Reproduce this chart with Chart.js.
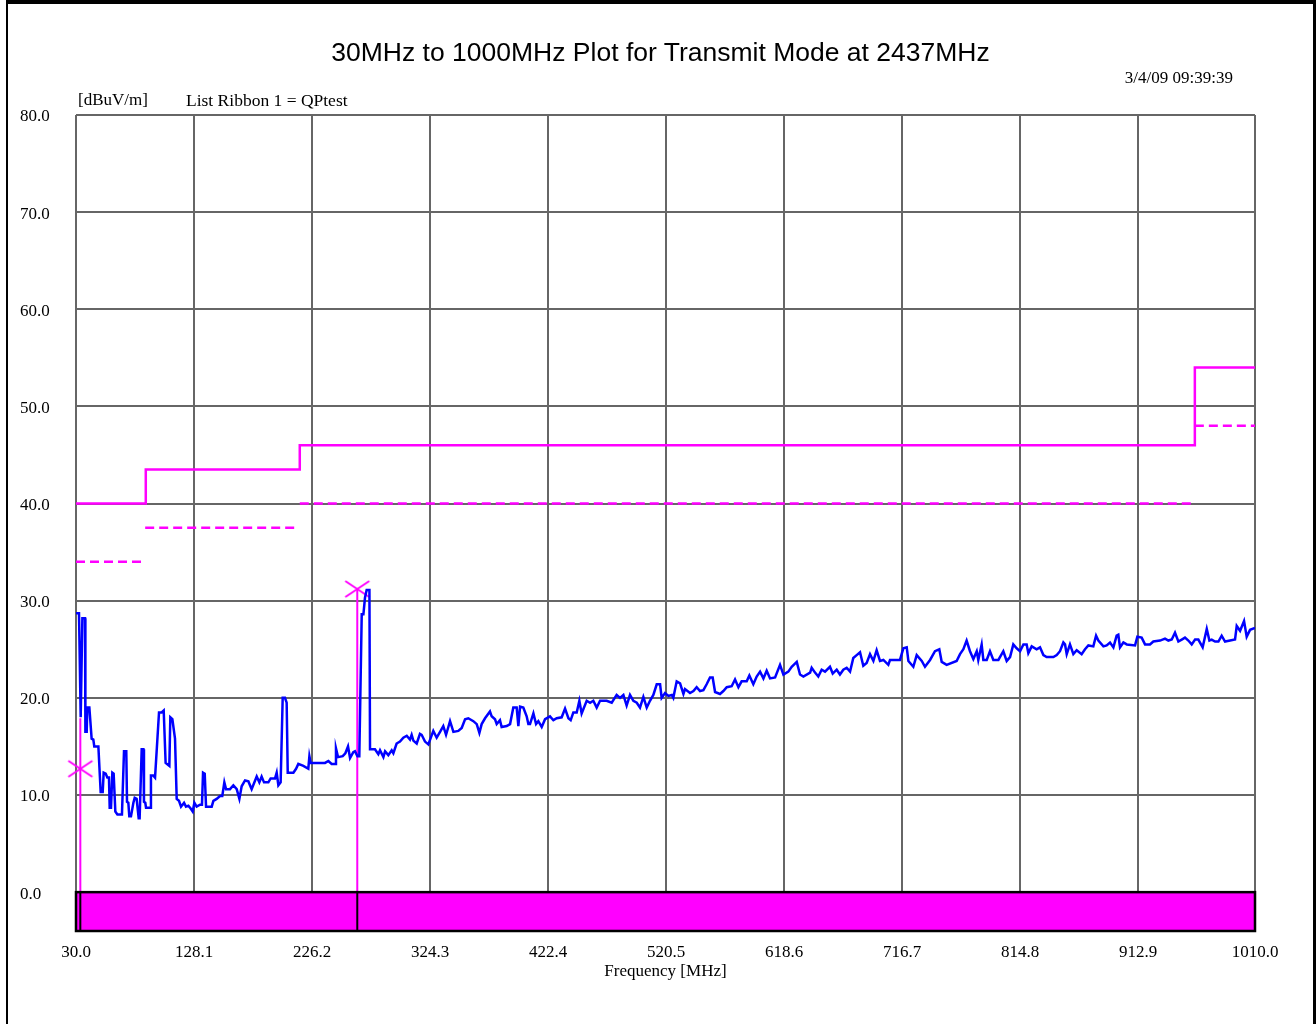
<!DOCTYPE html>
<html>
<head>
<meta charset="utf-8">
<script src="https://cdn.jsdelivr.net/npm/chart.js@4"></script>
<style>
  html, body { margin: 0; padding: 0; background: #fff; }
  body { width: 1316px; height: 1024px; position: relative; overflow: hidden; }
  #frame { position: absolute; left: 6px; top: 0; width: 1305px; height: 1030px;
           border-left: 2px solid #000; border-top: 4px solid #000; border-right: 3px solid #000; }
  #chart { position: absolute; left: 0; top: 0; }
  .txt { position: absolute; white-space: nowrap; color: #000; line-height: 1; }
  #title { left: 0; width: 1321px; top: 37px; text-align: center;
           font: 26.5px "Liberation Sans", Arial, sans-serif; }
  #stamp { right: 83px; top: 68px; font: 17px "Liberation Serif", "Times New Roman", serif; }
  #unit { left: 78px; top: 90px; font: 17px "Liberation Serif", "Times New Roman", serif; }
  #ribbon { left: 186px; top: 90px; font: 17.5px "Liberation Serif", "Times New Roman", serif; }
</style>
</head>
<body>
<div id="frame"></div>
<canvas id="chart" width="1316" height="1024"></canvas>
<div class="txt" id="title">30MHz to 1000MHz Plot for Transmit Mode at 2437MHz</div>
<div class="txt" id="stamp">3/4/09 09:39:39</div>
<div class="txt" id="unit">[dBuV/m]</div>
<div class="txt" id="ribbon">List Ribbon 1 = QPtest</div>
<script>
// axis ticks
const xTicks = [30.0, 128.1, 226.2, 324.3, 422.4, 520.5, 618.6, 716.7, 814.8, 912.9, 1010.0];
const yTicks = [0, 10, 20, 30, 40, 50, 60, 70, 80];

// measured trace (MHz, dBuV/m)
const traceFreq = [
  30.0, 32.5, 33.9, 35.3, 37.5, 37.8, 38.9, 39.4, 41.1, 43.0, 44.4, 45.2, 48.6, 50.5, 52.2, 53.0,
  54.7, 56.0, 57.4, 58.0, 59.1, 60.2, 61.3, 62.7, 64.4, 68.2, 69.9, 71.8, 72.4, 73.5, 74.3, 75.7,
  77.7, 78.8, 80.4, 82.1, 82.9, 84.6, 86.0, 86.5, 87.6, 88.2, 91.8, 92.3, 94.3, 95.7, 99.0, 101.2,
  102.9, 104.5, 107.6, 108.4, 110.1, 112.3, 113.7, 115.6, 117.3, 119.8, 121.4, 123.4, 125.3, 127.0,
  128.4, 130.3, 133.1, 134.7, 135.6, 137.0, 138.1, 142.8, 144.2, 146.9, 149.7, 151.6, 153.3, 154.7,
  158.0, 160.8, 163.6, 165.8, 167.7, 170.5, 173.3, 176.0, 180.2, 182.4, 184.3, 186.3, 189.9, 191.8,
  195.4, 196.8, 198.2, 200.1, 201.8, 203.7, 205.1, 206.0, 210.7, 212.9, 214.8, 219.0, 223.1, 224.0,
  225.1, 237.0, 239.8, 242.5, 245.3, 246.1, 247.8, 251.7, 253.9, 256.1, 257.8, 260.5, 261.9, 263.9,
  265.5, 267.5, 268.9, 270.2, 271.6, 273.9, 274.4, 278.5, 281.3, 282.7, 285.5, 286.9, 289.6, 292.4,
  293.8, 296.5, 299.3, 302.1, 304.9, 307.6, 309.0, 310.4, 313.2, 315.9, 317.3, 320.1, 322.9, 327.0,
  329.8, 332.6, 335.3, 337.6, 339.5, 340.9, 343.7, 347.8, 350.6, 353.4, 356.1, 360.3, 363.1, 365.3,
  367.2, 370.0, 374.1, 375.5, 378.3, 379.7, 382.4, 383.8, 388.0, 390.8, 393.5, 396.3, 397.7, 399.1,
  401.8, 404.6, 406.0, 407.4, 410.2, 412.4, 414.3, 417.1, 419.9, 424.0, 426.8, 429.6, 433.7, 436.5,
  439.3, 441.2, 443.4, 446.2, 448.4, 450.3, 454.5, 457.3, 460.0, 462.8, 465.6, 471.1, 475.3, 479.4,
  482.2, 485.0, 487.7, 490.5, 493.3, 496.1, 498.8, 501.6, 504.4, 507.1, 509.9, 512.7, 515.5, 516.8,
  519.6, 522.4, 525.2, 526.5, 529.3, 532.1, 534.9, 536.2, 540.4, 543.2, 545.9, 548.7, 551.5, 554.2,
  557.0, 559.2, 561.2, 565.3, 568.1, 570.9, 575.0, 577.8, 580.6, 583.3, 587.5, 589.7, 593.0, 595.8,
  598.6, 601.4, 604.1, 606.9, 611.1, 615.2, 618.0, 622.1, 624.9, 629.1, 631.8, 634.6, 640.2, 641.5,
  644.3, 647.0, 649.8, 652.6, 656.7, 659.0, 662.3, 665.0, 667.8, 670.6, 673.4, 676.1, 678.9, 681.7,
  684.4, 687.2, 690.0, 692.8, 695.5, 698.3, 701.1, 705.2, 706.6, 714.9, 717.7, 720.5, 721.9, 726.0,
  728.8, 733.0, 735.7, 739.9, 744.0, 747.6, 749.6, 753.7, 762.0, 764.8, 767.6, 770.3, 773.1, 775.9,
  778.7, 780.0, 782.8, 784.2, 787.0, 789.7, 792.5, 796.7, 800.8, 803.6, 806.4, 809.1, 811.9, 814.7,
  817.5, 820.2, 821.6, 824.4, 828.5, 831.3, 834.1, 836.8, 842.4, 845.2, 847.9, 850.7, 852.1, 853.5,
  856.2, 859.0, 861.8, 865.9, 868.7, 871.5, 875.6, 877.9, 879.8, 884.0, 886.7, 889.5, 892.3, 895.0,
  896.4, 897.8, 900.6, 903.4, 910.3, 912.2, 915.8, 918.6, 922.7, 925.5, 931.1, 935.2, 938.0, 940.8,
  943.5, 946.3, 949.1, 951.8, 954.6, 957.4, 960.2, 962.9, 966.5, 969.9, 972.1, 974.0, 976.8, 979.6,
  982.3, 985.1, 989.3, 993.4, 994.8, 997.6, 1000.9, 1003.1, 1005.9, 1010.0
];
const traceLevel = [
  28.7, 28.7, 18.0, 28.2, 28.2, 16.5, 16.5, 19.0, 19.0, 15.8, 15.7, 15.0, 15.0, 10.3, 10.3, 12.3,
  12.2, 11.8, 11.8, 8.7, 8.7, 12.3, 12.2, 8.3, 8.0, 8.0, 14.5, 14.5, 9.3, 9.2, 7.8, 7.8,
  9.2, 9.7, 9.6, 7.6, 7.6, 14.7, 14.7, 9.3, 9.2, 8.7, 8.7, 12.0, 12.0, 11.8, 18.5, 18.5,
  18.7, 13.3, 13.0, 18.0, 17.8, 15.8, 9.6, 9.4, 8.8, 9.2, 8.8, 8.9, 8.6, 8.3,
  9.2, 8.8, 9.0, 9.0, 12.3, 12.2, 8.8, 8.8, 9.4, 9.6, 9.9, 9.9, 11.3, 10.6,
  10.6, 11.0, 10.6, 9.6, 10.9, 11.5, 11.4, 10.6, 11.9, 11.3, 11.9, 11.3, 11.3, 11.7,
  11.7, 12.3, 11.0, 11.3, 20.0, 20.0, 19.5, 12.3, 12.3, 12.7, 13.2, 13.0, 12.7, 14.0,
  13.3, 13.3, 13.5, 13.2, 13.2, 14.8, 13.9, 14.0, 14.3, 15.0, 13.8, 14.4, 14.5, 14.0,
  14.0, 28.6, 28.6, 30.3, 31.1, 31.1, 14.7, 14.7, 14.2, 14.6, 13.9, 14.5, 14.1, 14.6,
  14.3, 15.3, 15.5, 15.9, 16.1, 15.7, 16.2, 15.6, 15.3, 16.3, 16.2, 15.5, 15.2, 16.6,
  15.9, 16.5, 17.1, 16.2, 17.0, 17.6, 16.5, 16.6, 16.9, 17.8, 17.9, 17.6, 17.3, 16.4,
  17.3, 17.9, 18.6, 18.1, 17.8, 17.3, 17.7, 17.0, 17.1, 17.3, 19.0, 19.0, 17.1, 19.1,
  19.0, 18.1, 17.3, 17.3, 18.4, 17.3, 17.6, 17.0, 17.8, 18.1, 17.7, 17.9, 18.0, 18.9,
  17.9, 17.7, 18.5, 18.5, 19.7, 18.4, 19.7, 19.5, 19.7, 19.0, 19.7, 19.7, 19.5, 20.3,
  20.0, 20.3, 19.2, 20.3, 19.7, 19.5, 19.0, 20.1, 19.0, 19.7, 20.3, 21.4, 21.4, 20.0,
  20.5, 20.2, 20.3, 20.0, 21.7, 21.5, 20.4, 20.9, 20.5, 20.7, 21.1, 20.7, 20.8, 21.4,
  22.1, 22.1, 20.6, 20.4, 20.7, 21.1, 21.2, 21.9, 21.1, 21.7, 21.7, 22.3, 21.4, 22.2,
  22.7, 22.0, 22.8, 22.0, 22.1, 23.4, 22.4, 22.7, 23.2, 23.7, 22.4, 22.2, 22.6, 23.1,
  22.6, 22.2, 22.9, 22.7, 23.2, 22.5, 22.9, 22.4, 22.9, 23.1, 22.7, 24.1, 24.4, 24.7,
  23.3, 23.6, 24.5, 23.8, 24.9, 23.8, 23.9, 23.4, 23.9, 23.9, 25.1, 25.2, 23.8, 23.2,
  24.4, 23.8, 23.2, 23.9, 24.8, 25.0, 23.7, 23.4, 23.8, 24.5, 25.0, 25.9, 24.8, 24.0,
  24.8, 23.9, 25.5, 23.9, 23.9, 24.8, 23.9, 23.9, 24.8, 23.8, 24.2, 25.5, 25.1, 24.8,
  25.5, 25.5, 24.6, 25.3, 25.0, 25.2, 24.4, 24.2, 24.2, 24.4, 24.8, 25.7, 25.5, 24.5,
  25.5, 24.5, 24.9, 24.5, 25.0, 25.4, 25.3, 26.4, 25.9, 25.3, 25.4, 25.7, 25.2, 26.4,
  26.5, 25.2, 25.7, 25.5, 25.4, 26.3, 26.2, 25.5, 25.5, 25.8, 25.9, 26.1, 25.9, 26.0,
  26.7, 25.8, 26.0, 26.2, 25.9, 25.5, 26.0, 26.0, 25.2, 27.1, 25.9, 26.0, 25.8, 25.8,
  26.4, 25.8, 25.9, 26.0, 27.4, 26.9, 27.9, 26.3, 27.0, 27.2
];

// quasi-peak limit (solid) and the lower limit (dashed)
const limitFreq = [30, 88, 88, 216, 216, 960, 960, 1010];
const limitLevel = [40, 40, 43.5, 43.5, 46, 46, 54, 54];
const lowStart = [30, 87.5, 216, 960];
const lowEnd = [85.5, 212, 958, 1010];
const lowLevel = [34, 37.5, 40, 48];

// markers
const markerFreq = [33.6, 263.8];
const markerLevel = [12.7, 31.2];
const markerTop = [17.9, 31.2];

const MAG = '#ff00ff';
const serif = '"Liberation Serif", "Times New Roman", serif';

// wide flat X used for the markers
const xMark = document.createElement('canvas');
xMark.width = 28; xMark.height = 20;
(function () {
  const c = xMark.getContext('2d');
  c.strokeStyle = MAG; c.lineWidth = 2;
  c.beginPath();
  c.moveTo(2, 2); c.lineTo(26, 18);
  c.moveTo(26, 2); c.lineTo(2, 18);
  c.stroke();
})();

const lowData = [];
lowStart.forEach((s, i) => {
  lowData.push({x: s, y: lowLevel[i]}, {x: lowEnd[i], y: lowLevel[i]}, {x: lowEnd[i], y: null});
});

const markerLines = markerFreq.map((f, i) => ({
  data: [{x: f, y: 0}, {x: f, y: markerTop[i]}],
  borderColor: MAG, borderWidth: 2, pointRadius: 0, order: 5
}));

// magenta ribbon under the 0 line
const ribbon = {
  id: 'ribbon',
  afterDatasetsDraw(chart) {
    const {ctx, chartArea, scales} = chart;
    const top = scales.y.getPixelForValue(0);
    const bottom = chartArea.bottom;
    ctx.save();
    ctx.fillStyle = MAG;
    ctx.fillRect(chartArea.left, top, chartArea.right - chartArea.left, bottom - top);
    ctx.strokeStyle = '#000';
    ctx.lineWidth = 2.5;
    ctx.strokeRect(chartArea.left, top, chartArea.right - chartArea.left, bottom - top);
    ctx.lineWidth = 2;
    markerFreq.forEach(f => {
      const x = scales.x.getPixelForValue(f);
      ctx.beginPath();
      ctx.moveTo(x, top);
      ctx.lineTo(x, bottom);
      ctx.stroke();
    });
    ctx.restore();
  }
};

new Chart(document.getElementById('chart'), {
  type: 'line',
  data: {
    datasets: [
      {
        data: traceFreq.map((f, i) => ({x: f, y: traceLevel[i]})),
        borderColor: '#0000ff', borderWidth: 2.5, pointRadius: 0, tension: 0, order: 0
      },
      {
        data: markerFreq.map((f, i) => ({x: f, y: markerLevel[i]})),
        showLine: false, pointStyle: xMark, pointRadius: 12, clip: false, order: 1
      },
      {
        data: limitFreq.map((f, i) => ({x: f, y: limitLevel[i]})),
        borderColor: MAG, borderWidth: 2.5, pointRadius: 0, tension: 0, order: 2
      },
      {
        data: lowData, spanGaps: false,
        borderColor: MAG, borderWidth: 2.5, borderDash: [9, 5], pointRadius: 0, order: 3
      },
      ...markerLines
    ]
  },
  options: {
    responsive: false,
    animation: false,
    devicePixelRatio: 1,
    layout: { padding: { left: 20, top: 115, right: 61, bottom: 42 } },
    plugins: { legend: { display: false }, tooltip: { enabled: false } },
    scales: {
      x: {
        type: 'linear', min: 30, max: 1010,
        afterBuildTicks: axis => { axis.ticks = xTicks.map(v => ({value: v})); },
        afterFit: axis => { axis.height = 51; },
        grid: { color: '#666', lineWidth: 2, drawTicks: false },
        border: { display: false },
        ticks: {
          padding: 11, color: '#000', maxRotation: 0, autoSkip: false,
          font: { family: serif, size: 17 },
          callback: v => Number(v).toFixed(1)
        },
        title: {
          display: true, text: 'Frequency [MHz]', color: '#000',
          font: { family: serif, size: 17 }, padding: { top: 0, bottom: 0 }
        }
      },
      y: {
        min: -4, max: 80,
        afterBuildTicks: axis => { axis.ticks = yTicks.map(v => ({value: v})); },
        afterFit: axis => { axis.width = 56; },
        grid: { color: '#666', lineWidth: 2, drawTicks: false },
        border: { display: false },
        ticks: {
          crossAlign: 'far', color: '#000', labelOffset: 2,
          font: { family: serif, size: 17 },
          callback: v => Number(v).toFixed(1)
        }
      }
    }
  },
  plugins: [ribbon]
});
</script>
</body>
</html>
